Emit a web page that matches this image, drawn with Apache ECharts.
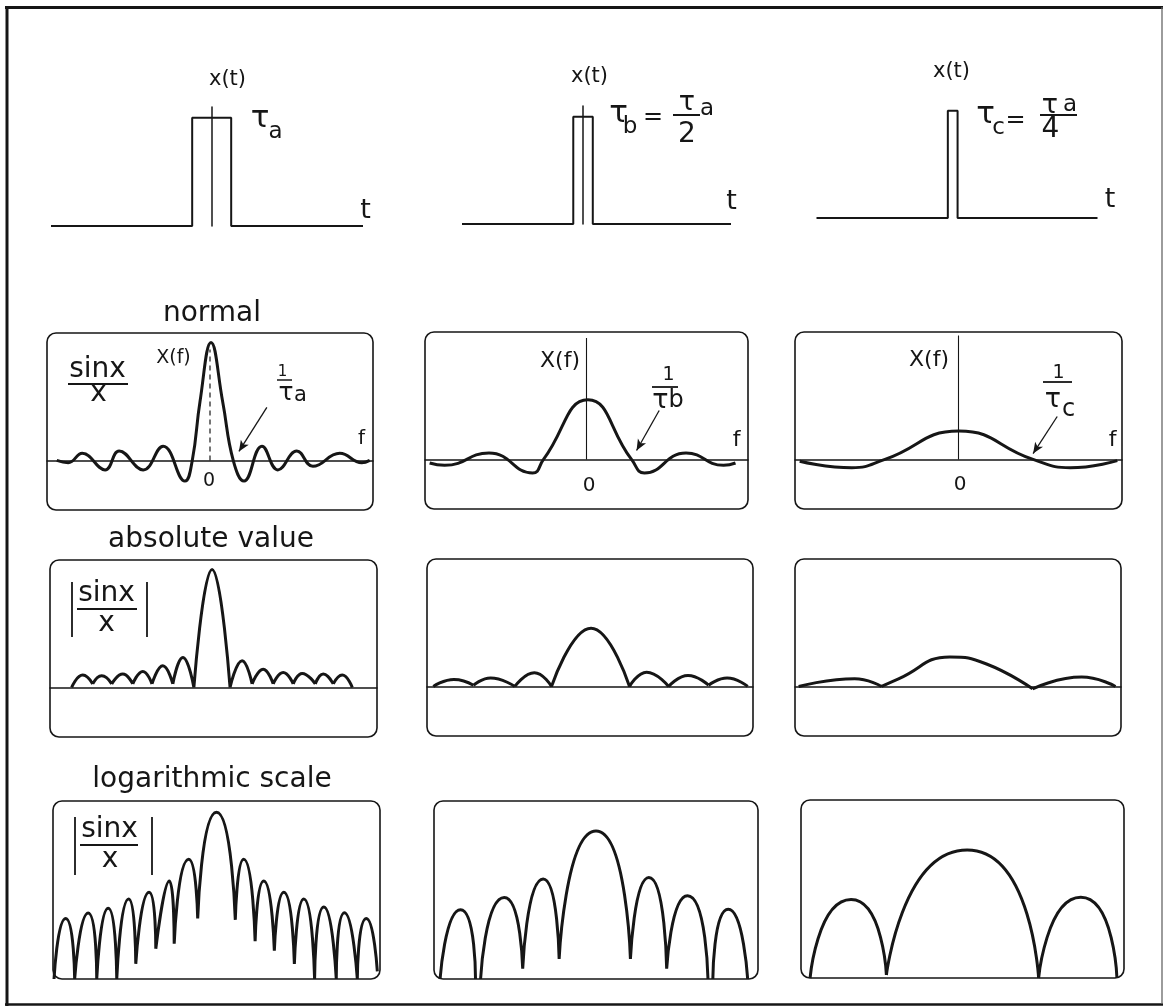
<!DOCTYPE html>
<html><head><meta charset="utf-8">
<script src="https://cdn.jsdelivr.net/npm/echarts@6/dist/echarts.min.js"></script>
<style>html,body{margin:0;padding:0;background:#fff}#c{width:1166px;height:1007px}</style>
</head><body><div id="c"></div>
<script>
// ===== DATA =====
// time pulses x(t): t in units of tau_a, amplitude 1
const pulseA = [[-4.12,0],[-0.5,0],[-0.5,1],[0.5,1],[0.5,0],[3.88,0]];
const pulseB = [[-3.1,0],[-0.25,0],[-0.25,1],[0.25,1],[0.25,0],[3.79,0]];
const pulseC = [[-3.49,0],[-0.125,0],[-0.125,1],[0.125,1],[0.125,0],[3.71,0]];

// normal spectra X(f): f in units of 1/tau_a, amplitude (peak of a = 1)
const normalA = [[-7.52,0],[-6.96,-0.02],[-6.27,0.06],[-5.15,-0.08],[-4.46,0.08],[-3.28,-0.08],[-2.3,0.12],[-1.23,-0.175],[-0.87,0],[-0.49,0.5],[0.05,1.0],[0.62,0.5],[1.14,0],[1.67,-0.175],[2.55,0.12],[3.33,-0.08],[4.26,0.08],[5.05,-0.05],[6.37,0.06],[7.45,-0.02],[7.84,0]];
const normalB = [[-7.77,-0.03],[-7.03,-0.05],[-4.83,0.055],[-2.67,-0.115],[-2.13,0],[0.07,0.505],[2.23,0],[2.87,-0.115],[4.93,0.055],[6.79,-0.05],[7.38,-0.03]];
const normalC = [[-7.77,-0.015],[-5.22,-0.07],[-3.6,0],[0.02,0.24],[3.65,0],[5.47,-0.07],[7.77,-0.01]];
const freqAxisA = [[0,0],[0,0.94]];
const freqAxisB = [[0,0],[0,1.03]];
const freqAxisC = [[0,0],[0,1.05]];
const arrowA = [[2.79,0.45],[1.42,0.076]];
const arrowB = [[3.6,0.415],[2.48,0.076]];
const arrowC = [[4.83,0.364],[3.65,0.05]];

// absolute value |X(f)|: one array per lobe
const absA = [
  [[-6.94,0],[-6.4,0.105],[-5.91,0.03]],
  [[-5.91,0.03],[-5.47,0.099],[-4.98,0.03]],
  [[-4.98,0.03],[-4.44,0.113],[-3.95,0.03]],
  [[-3.95,0.03],[-3.46,0.136],[-3.01,0.03]],
  [[-3.01,0.03],[-2.48,0.184],[-1.99,0.03]],
  [[-1.99,0.03],[-1.5,0.254],[-0.96,0]],
  [[-0.96,0],[-0.07,1.0],[0.81,0]],
  [[0.81,0],[1.4,0.226],[1.89,0.03]],
  [[1.89,0.03],[2.43,0.155],[2.92,0.03]],
  [[2.92,0.03],[3.41,0.127],[3.9,0.03]],
  [[3.9,0.03],[4.34,0.119],[4.98,0.03]],
  [[4.98,0.03],[5.37,0.113],[5.86,0.03]],
  [[5.86,0.03],[6.3,0.105],[6.79,0]]
];
const absB = [
  [[-7.69,0],[-6.68,0.059],[-5.72,0.01]],
  [[-5.72,0.01],[-4.88,0.071],[-3.69,0]],
  [[-3.69,0],[-2.73,0.116],[-1.89,0]],
  [[-1.89,0],[0.05,0.494],[1.94,0]],
  [[1.94,0],[2.78,0.121],[3.86,0]],
  [[3.86,0],[4.81,0.093],[5.82,0.01]],
  [[5.82,0.01],[6.73,0.071],[7.74,0]]
];
const absC = [
  [[-7.82,0],[-5.07,0.065],[-3.75,0]],
  [[-3.75,0],[-2.92,0.065],[-0.4,0.25],[1.4,0.19],[3.66,-0.02]],
  [[3.66,-0.02],[6.07,0.079],[7.73,0]]
];

// logarithmic scale 20*log10|X(f)| in dB (peak of a = 0 dB), one array per lobe
const logA = [
  [[-7.95,-44],[-7.38,-28],[-6.94,-44]],
  [[-6.94,-44],[-6.28,-26.6],[-5.86,-44]],
  [[-5.86,-44],[-5.3,-25.3],[-4.88,-44]],
  [[-4.88,-44],[-4.3,-22.9],[-3.95,-40]],
  [[-3.95,-40],[-3.3,-21.1],[-2.97,-36]],
  [[-2.97,-36],[-2.31,-18.1],[-2.07,-34.7]],
  [[-2.07,-34.7],[-1.36,-12.4],[-0.92,-28]],
  [[-0.92,-28],[0,0],[0.92,-28.4]],
  [[0.92,-28.4],[1.33,-12.4],[1.89,-34]],
  [[1.89,-34],[2.31,-18.1],[2.83,-36.5]],
  [[2.83,-36.5],[3.29,-21.1],[3.81,-40]],
  [[3.81,-40],[4.27,-22.9],[4.8,-44]],
  [[4.8,-44],[5.25,-25],[5.86,-44]],
  [[5.86,-44],[6.26,-26.5],[6.89,-44]],
  [[6.89,-44],[7.33,-28],[7.87,-42]]
];
const logB = [
  [[-7.7,-44],[-6.69,-25.7],[-5.95,-44]],
  [[-5.7,-44],[-4.53,-22.5],[-3.62,-41.3]],
  [[-3.62,-41.3],[-2.61,-17.6],[-1.82,-38.7]],
  [[-1.82,-38.7],[0,-4.9],[1.7,-38.7]],
  [[1.7,-38.7],[2.61,-17.2],[3.49,-41.3]],
  [[3.49,-41.3],[4.52,-22],[5.53,-44]],
  [[5.77,-44],[6.53,-25.6],[7.49,-44]]
];
const logC = [
  [[-7.55,-44],[-5.52,-23.3],[-3.77,-43.2]],
  [[-3.77,-43.2],[0.23,-10.2],[3.77,-44]],
  [[3.77,-44],[5.86,-22.7],[7.65,-44]]
];

// ===== LAYOUT =====
const FONT = '"DejaVu Sans", "Liberation Sans", sans-serif';
const INK = '#161616';
const chart = echarts.init(document.getElementById('c'), null, {renderer:'canvas'});

const grids = [], xAxes = [], yAxes = [], series = [], graphics = [];

function panel(box, xr, yr, xLine, yLine){
  const i = grids.length;
  grids.push({left:box[0], top:box[1], width:box[2], height:box[3], containLabel:false, outerBoundsMode:'none'});
  const ax = (show) => ({show:true, axisLine:{show:show, onZero:true, lineStyle:{color:INK, width:1.5}},
    axisTick:{show:false}, axisLabel:{show:false}, splitLine:{show:false}});
  xAxes.push(Object.assign({type:'value', gridIndex:i, min:xr[0], max:xr[1]}, ax(xLine)));
  yAxes.push(Object.assign({type:'value', gridIndex:i, min:yr[0], max:yr[1]}, ax(yLine)));
  return i;
}
function line(i, data, width, smooth, extra){
  series.push(Object.assign({type:'line', xAxisIndex:i, yAxisIndex:i, data:data, symbol:'none',
    showSymbol:false, smooth:smooth, clip:false, silent:true, animation:false,
    lineStyle:{color:INK, width:width}}, extra||{}));
}
function lobes(l){
  const out = [];
  l.forEach((lobe, k) => { if (k) out.push([lobe[0][0], '-']); lobe.forEach(p => out.push(p)); });
  return out;
}
function arrow(a){
  return {markLine:{silent:true, animation:false, symbol:['none','arrow'], symbolSize:[7,11],
    label:{show:false}, lineStyle:{color:INK, width:1.3, type:'solid'},
    data:[[{coord:a[0]},{coord:a[1]}]]}};
}
function box(b){
  graphics.push({type:'rect', z:1, shape:{x:b[0], y:b[1], width:b[2], height:b[3], r:9},
    style:{fill:'none', stroke:INK, lineWidth:1.6}});
}

// --- row 1: pulses ---
let p;
p = panel([51,107,312,119], [-4.12,3.88], [0,1.1], false, true);
line(p, pulseA, 2, false);
p = panel([462,106,269,118], [-3.1,3.79], [0,1.1], false, true);
line(p, pulseB, 2, false);
p = panel([816.5,100,281,118], [-3.49,3.71], [0,1.1], false, false);
line(p, pulseC, 2, false);

// --- row 2: normal ---
const NR = [-0.42,1.08], XR = [-8,8];
const bNA=[47,333,326,177], bNB=[425,332,323,177], bNC=[795,332,327,177];
p = panel(bNA, XR, NR, true, false);
line(p, freqAxisA, 1.2, false, {lineStyle:{color:INK, width:1.2, type:[5,4]}});
line(p, normalA, 3, 0.45, arrow(arrowA));
p = panel(bNB, XR, NR, true, false);
line(p, freqAxisB, 1.1, false);
line(p, normalB, 3, 0.5, arrow(arrowB));
p = panel(bNC, XR, NR, true, false);
line(p, freqAxisC, 1.1, false);
line(p, normalC, 3, 0.5, arrow(arrowC));

// --- row 3: absolute value ---
const bAA=[50,560,327,177], bAB=[427,559,326,177], bAC=[795,559,326,177];
p = panel(bAA, XR, NR, true, false); line(p, lobes(absA), 3, 0.5);
p = panel(bAB, XR, NR, true, false); line(p, lobes(absB), 3, 0.5);
p = panel(bAC, XR, NR, true, false); line(p, lobes(absC), 3, 0.5);

// --- row 4: logarithmic scale ---
const LR = [-44,3];
const bLA=[53,801,327,178], bLB=[434,801,324,178], bLC=[801,800,323,178];
p = panel(bLA, XR, LR, false, false); line(p, lobes(logA), 3, 0.8);
p = panel(bLB, XR, LR, false, false); line(p, lobes(logB), 3, 0.85);
p = panel(bLC, XR, LR, false, false); line(p, lobes(logC), 3, 0.85);

[bNA,bNB,bNC,bAA,bAB,bAC,bLA,bLB,bLC].forEach(box);

// --- text labels ---
function txt(s, x, y, size, align){
  graphics.push({type:'text', z:5, x:x, y:y, style:{text:s, fontSize:size, fontFamily:FONT, fill:INK,
    align:align||'center', textAlign:align||'center', verticalAlign:'middle', textVerticalAlign:'middle'}});
}
function seg(x1,y1,x2,y2,w,c){
  graphics.push({type:'line', z:5, shape:{x1:x1,y1:y1,x2:x2,y2:y2}, style:{stroke:c||INK, lineWidth:w||1.6}});
}
// top row labels
txt('x(t)', 209, 80, 21, 'left');
txt('x(t)', 571, 77, 21, 'left');
txt('x(t)', 933, 72, 21, 'left');
txt('τ', 260, 119, 31); txt('a', 275.5, 132, 23);
txt('τ', 618.5, 114, 31); txt('b', 630, 127, 23); txt('=', 653, 118, 24);
txt('τ', 687, 103, 27); txt('a', 707, 109, 23); txt('2', 687, 135, 28); seg(673,115,700,115,2);
txt('τ', 985.5, 115, 31); txt('c', 998.5, 128, 23); txt('=', 1015.5, 121, 24);
txt('τ', 1050, 106, 27); txt('a', 1070, 105, 23); txt('4', 1050.5, 130, 28); seg(1040,115,1077,115,2);
txt('t', 365.5, 211, 27); txt('t', 731.5, 202, 27); txt('t', 1110, 200, 27);
// row titles
txt('normal', 212, 314, 28);
txt('absolute value', 211, 540, 28);
txt('logarithmic scale', 212, 780, 28);
// normal a
txt('sinx', 97.5, 370, 28); txt('x', 98.5, 394, 28); seg(68,384,128,384,2);
txt('X(f)', 173.5, 358, 19);
txt('1', 282.5, 372, 15); seg(277,380,292,380,1.5); txt('τ', 286, 393, 25); txt('a', 300.5, 396, 21);
txt('f', 361.5, 439, 20); txt('0', 209, 481, 19);
// normal b
txt('X(f)', 560, 361, 22);
txt('1', 668.5, 375, 19); seg(652,387,678,387,1.8); txt('τ', 660.5, 401, 27); txt('b', 676, 401, 24);
txt('f', 736.5, 440, 22); txt('0', 589, 486, 20);
// normal c
txt('X(f)', 929, 360, 22);
txt('1', 1058.5, 373, 19); seg(1043,382,1072,382,1.8); txt('τ', 1053, 400, 27); txt('c', 1068.5, 410, 24);
txt('f', 1112.5, 440, 22); txt('0', 960, 485, 20);
// abs a
txt('sinx', 106.5, 594, 28); txt('x', 106.5, 624, 28); seg(77,609,137,609,2);
seg(72,582,72,637,1.8); seg(147,582,147,637,1.8);
// log a
txt('sinx', 109.5, 830, 28); txt('x', 110, 860, 28); seg(80,845,138,845,2);
seg(75,817,75,875,1.8); seg(152,817,152,875,1.8);
// outer frame
seg(5,7.5,1163,7.5,3); seg(7,6,7,1006,3); seg(5,1004.5,1163,1004.5,2.5); seg(1162,7,1162,1004,1.3,'#666');

chart.setOption({
  animation:false,
  backgroundColor:'#ffffff',
  grid:grids, xAxis:xAxes, yAxis:yAxes, series:series, graphic:graphics
});
</script></body></html>
